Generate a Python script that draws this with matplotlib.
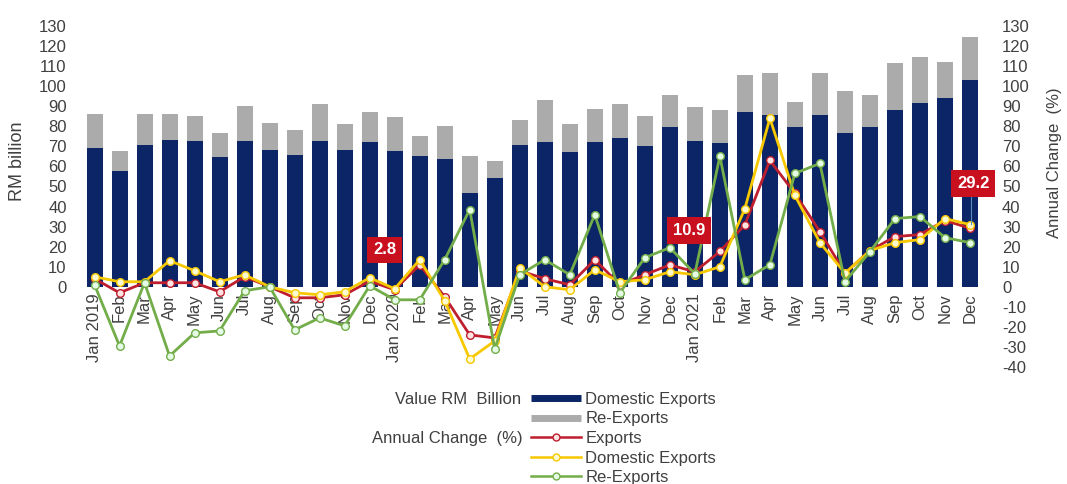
import matplotlib
matplotlib.use("Agg")
import matplotlib.pyplot as plt
from matplotlib.lines import Line2D
import numpy as np

plt.rcParams['font.family'] = ['Liberation Sans', 'DejaVu Sans']
plt.rcParams['axes.unicode_minus'] = False

months = ["Jan 2019", "Feb", "Mar", "Apr", "May", "Jun", "Jul", "Aug", "Sep", "Oct", "Nov", "Dec",
          "Jan 2020", "Feb", "Mar", "Apr", "May", "Jun", "Jul", "Aug", "Sep", "Oct", "Nov", "Dec",
          "Jan 2021", "Feb", "Mar", "Apr", "May", "Jun", "Jul", "Aug", "Sep", "Oct", "Nov", "Dec"]

domestic_exports = [69, 57.5, 70.5, 73, 72.5, 64.5, 72.5, 68, 65.5, 72.5, 68, 72,
                    67.5, 65, 63.5, 46.5, 54, 70.5, 72, 67, 72, 74, 70, 79.5,
                    72.5, 71.5, 87, 85.5, 79.5, 85.5, 76.5, 79.5, 88, 91.5, 94, 103]
re_exports = [17, 10, 15.5, 13, 12.5, 12, 17.5, 13.5, 12.5, 18.5, 13, 15,
              17, 10, 16.5, 18.5, 8.5, 12.5, 21, 14, 16.5, 17, 15, 16,
              17.3, 16.5, 18.5, 21, 12.5, 21, 21, 16, 23.5, 23, 18, 21.5]

chg_exports = [4, -3, 2, 2, 2, -2.5, 5, 0, -5.5, -5.5, -4, 2.8,
               -1.5, 11, -5, -24, -25.5, 8, 4, 1, 13.5, 1, 6, 10.9,
               7.5, 17.6, 30.9, 63, 46.5, 27.5, 6.8, 18, 25, 26, 33, 29.2]
chg_domestic = [5, 2.5, 2.5, 13, 8, 2.5, 6, 0, -3, -4, -2.5, 4.5,
                -1, 13.5, -7, -36, -27, 9.5, 0, -1.5, 8.5, 2.5, 3.5, 7.5,
                6, 10, 39, 84, 45.5, 22, 6.8, 18, 22, 23.5, 34, 31]
chg_reexports = [1, -29.5, 2, -34.5, -23, -22, -2, 0, -21.5, -15.5, -19.5, 0.5,
                 -6.5, -6.5, 13.5, 38.5, -31, 6, 13.5, 6, 36, -3, 14.5, 19.5,
                 6.5, 65, 3.5, 11, 56.5, 61.5, 2.5, 17.5, 34, 35, 24.5, 22]

callouts = [("2.8", 11.6, 18.4), ("10.9", 23.76, 28), ("29.2", 35.13, 51.6)]
callout_points = [(35, 29.2)]

NAVY = '#0B2566'
GRAY = '#ABABAB'
RED = '#BE1E2D'
YEL = '#F7C800'
GRN = '#72AD4A'
TXT = '#404040'

W, H = 1067, 484
fig = plt.figure(figsize=(W / 100, H / 100), dpi=100)
ax = fig.add_axes([82 / W, 1 - 367 / H, 900.5 / W, 341 / H])
x = np.arange(len(months))

ax.bar(x, domestic_exports, width=0.64, color=NAVY, zorder=2)
ax.bar(x, re_exports, width=0.64, bottom=domestic_exports, color=GRAY, zorder=2)
ax.set_xlim(-0.5, len(months) - 0.5)
ax.set_ylim(-40, 130)
ax.set_yticks(np.arange(0, 131, 10))
ax.tick_params(axis='y', length=0, pad=11, labelsize=12, labelcolor=TXT)
ax.spines['bottom'].set_position(('data', 0))
for s in ax.spines.values():
    s.set_visible(False)
ax.set_xticks(x)
ax.set_xticklabels(months, rotation=90, fontsize=12, color=TXT, va='top', ha='center')
ax.tick_params(axis='x', length=0, pad=5)

ax2 = ax.twinx()
ax2.set_ylim(-40, 130)
ax2.set_yticks(np.arange(-40, 131, 10))
ax2.tick_params(axis='y', length=0, pad=14, labelsize=12, labelcolor=TXT)
for s in ax2.spines.values():
    s.set_visible(False)

series = [(chg_exports, RED, '#FFE4E4', 'Exports'),
          (chg_domestic, YEL, '#FFFBD0', 'Domestic Exports'),
          (chg_reexports, GRN, '#E6FBE6', 'Re-Exports')]
for vals, col, fc, lab in series:
    ax2.plot(x, vals, color=col, lw=2.0, marker='o', markersize=5.5,
             markerfacecolor=fc, markeredgecolor=col, markeredgewidth=1.0, zorder=3)

for (txt, cx, cy) in callouts:
    ax2.text(cx, cy, txt, ha='center', va='center', color='white', fontweight='bold',
             fontsize=12, zorder=6,
             bbox=dict(boxstyle='square,pad=0.35', fc='#C8101E', ec='none'))
for (px, py) in callout_points:
    ax2.plot([px + 0.05, px + 0.05], [py + 2, 46], color='#5B8DBA', lw=0.8, zorder=5)

fig.text(18 / W, 1 - 161 / H, 'RM billion', rotation=90, ha='center', va='center',
         fontsize=13, color=TXT)
fig.text(1055 / W, 1 - 163 / H, 'Annual Change  (%)', rotation=90, ha='center', va='center',
         fontsize=12, color=TXT)

handles = [Line2D([], [], color=NAVY, lw=5, solid_capstyle='butt'),
           Line2D([], [], color=GRAY, lw=5, solid_capstyle='butt')]
for vals, col, fc, lab in series:
    handles.append(Line2D([], [], color=col, lw=1.8, marker='o', markersize=5,
                          markerfacecolor=fc, markeredgecolor=col))
labels = ['Domestic Exports', 'Re-Exports', 'Exports', 'Domestic Exports', 'Re-Exports']
leg = fig.legend(handles, labels, loc='upper left', bbox_to_anchor=(531 / W, 1 - 392 / H),
                 frameon=False, fontsize=12, handlelength=3.0, handletextpad=0.25,
                 labelspacing=0.27, borderpad=0, borderaxespad=0)
for t in leg.get_texts():
    t.set_color(TXT)

fig.text(521 / W, 1 - 400 / H, 'Value RM  Billion', ha='right', va='center', fontsize=12, color=TXT)
fig.text(523 / W, 1 - 439 / H, 'Annual Change  (%)', ha='right', va='center', fontsize=12, color=TXT)

fig.savefig('out.png', dpi=100)
